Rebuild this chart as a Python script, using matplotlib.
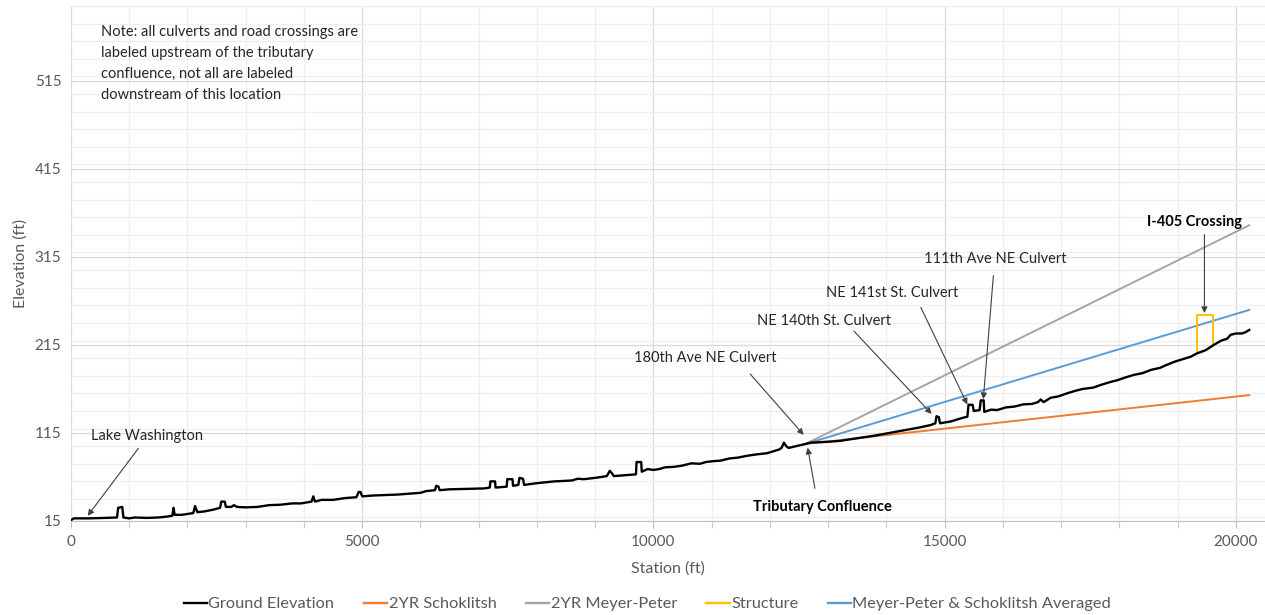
import matplotlib
matplotlib.use("Agg")
import matplotlib.pyplot as plt
from matplotlib.ticker import MultipleLocator
from matplotlib.lines import Line2D

# ---------------- data ----------------
ground_station = [0, 50, 300, 600, 790, 810, 880, 900, 1000, 1100, 1300, 1500, 1650, 1740, 1760, 1780,
                  1900, 2100, 2130, 2170, 2300, 2450, 2560, 2580, 2640, 2660, 2750, 2800, 2850, 3000,
                  3200, 3400, 3600, 3800, 3950, 4130, 4160, 4190, 4300, 4500, 4700, 4900, 4940, 4970,
                  5000, 5200, 5400, 5600, 5800, 6000, 6100, 6250, 6270, 6310, 6330, 6500, 6800, 7100,
                  7190, 7200, 7280, 7290, 7480, 7490, 7580, 7590, 7680, 7700, 7760, 7780, 8000, 8300,
                  8600, 8700, 8800, 9000, 9200, 9250, 9290, 9320, 9500, 9700, 9710, 9790, 9800, 9900,
                  10000, 10100, 10200, 10350, 10500, 10650, 10800, 10900, 11030, 11150, 11300, 11450,
                  11600, 11750, 11950, 12150, 12200, 12240, 12280, 12320, 12450, 12580, 12610, 12700,
                  13000, 13200, 13500, 13800, 14010, 14300, 14550, 14760, 14840, 14860, 14900, 14920,
                  15100, 15300, 15390, 15410, 15480, 15500, 15600, 15620, 15670, 15680, 15800, 15900,
                  16050, 16200, 16350, 16500, 16600, 16650, 16700, 16820, 16950, 17100, 17250, 17370,
                  17550, 17700, 17850, 17970, 18100, 18250, 18400, 18540, 18700, 18800, 18950, 19100,
                  19220, 19340, 19480, 19620, 19750, 19850, 19910, 20000, 20100, 20150, 20230]
ground_elev = [16, 18, 18, 18.5, 19, 30, 31, 19, 18, 19, 18.5, 19, 20, 21, 30, 22,
               22, 24, 32, 25, 26, 28, 30, 37, 37, 31, 31, 33, 31, 30.5,
               31, 33, 33.5, 35, 35, 37, 43, 37, 39, 39, 41, 42, 48, 48,
               43, 44, 44.5, 45, 46, 47, 49, 50, 55, 54, 50, 51, 51.5, 52,
               53, 60, 60, 53, 54, 62.5, 62.5, 55, 56, 64, 63, 56, 58, 60,
               61, 63, 62.5, 64, 66, 72, 69, 66, 67, 68, 82, 82, 71, 74,
               73, 74, 76, 76.5, 78, 80.5, 80, 82, 83, 83.5, 86, 87,
               89, 90.5, 92, 96, 98, 104, 100, 98, 100, 102, 102.5, 104,
               105, 106, 109, 112, 114.5, 118, 121, 124, 126, 134, 133, 126,
               128, 132, 133.5, 147, 147, 140, 141, 152, 152, 139, 141.5, 141,
               144, 145, 147.5, 148, 150, 153, 150, 155, 156.5, 160, 163, 165,
               166.5, 170, 173, 175, 178, 181, 183, 186.6, 189, 192, 196, 199,
               201.5, 205.6, 209, 215, 220, 222, 226.5, 228, 228, 229, 232]

trend_station = [12610, 20230]
schoklitsch = [102.5, 158]
meyer_peter = [102.5, 351]
averaged = [102.5, 254.8]

structure_station = [19330, 19330, 19600, 19600]
structure_elev = [205.6, 249, 249, 214]

y_ticks = [15, 115, 215, 315, 415, 515]
x_ticks = [0, 5000, 10000, 15000, 20000]

# ---------------- figure ----------------
plt.rcParams['font.family'] = ['Lato', 'DejaVu Sans']
fig = plt.figure(figsize=(12.65, 6.15), dpi=100)
ax = fig.add_axes([71/1265, 94/615, 1194/1265, 515/615])

ax.plot(ground_station, ground_elev, color='black', lw=1.7, zorder=5)
ax.plot(trend_station, schoklitsch, color='#ed7d31', lw=1.4, zorder=3)
ax.plot(trend_station, meyer_peter, color='#a5a5a5', lw=1.4, zorder=3)
ax.plot(structure_station, structure_elev, color='#ffc000', lw=1.4, zorder=4)
ax.plot(trend_station, averaged, color='#5b9bd5', lw=1.4, zorder=3)

ax.set_xlim(0, 20500)
ax.set_ylim(15, 600)
ax.set_xticks(x_ticks)
ax.set_yticks(y_ticks)
ax.xaxis.set_minor_locator(MultipleLocator(1000))
ax.yaxis.set_minor_locator(MultipleLocator(20))
ax.grid(which='major', color='#d9d9d9', lw=0.9)
ax.grid(which='minor', color='#efefef', lw=0.9)
ax.set_axisbelow(True)
for s in ['top', 'right', 'left']:
    ax.spines[s].set_visible(False)
ax.spines['bottom'].set_color('#bfbfbf')
ax.tick_params(axis='y', which='both', length=0, labelsize=11, labelcolor='#595959', pad=7)
ax.tick_params(axis='x', which='major', length=5, color='#bfbfbf', labelsize=11, labelcolor='#595959', pad=5)
ax.tick_params(axis='x', which='minor', length=5, color='#bfbfbf')
ax.set_xlabel('Station (ft)', fontsize=11.5, color='#595959', labelpad=9)
ax.set_ylabel('Elevation (ft)', fontsize=11.5, color='#595959')
ax.yaxis.set_label_coords(-0.036, 0.5)

# ---------------- annotations ----------------
arrow_kw = dict(arrowstyle='-|>', color='#404040', lw=0.8, mutation_scale=9)
fs = 10.5

ax.text(515, 578, 'Note: all culverts and road crossings are\nlabeled upstream of the tributary\n'
        'confluence, not all are labeled\ndownstream of this location',
        fontsize=fs, color='#262626', va='top', ha='left', linespacing=1.62)

ax.text(344, 111.6, 'Lake Washington', fontsize=fs, color='#262626', va='center', ha='left')
ax.annotate('', xy=(258, 18.4), xytext=(1185, 100), arrowprops=arrow_kw)

ax.text(10890, 200.2, '180th Ave NE Culvert', fontsize=fs, color='#262626', va='center', ha='center')
ax.annotate('', xy=(12610, 110.5), xytext=(11630, 184.3), arrowprops=arrow_kw)

ax.text(12900, 30.9, 'Tributary Confluence', fontsize=fs, fontweight='bold', color='#000000',
        va='center', ha='center')
ax.annotate('', xy=(12640, 101.4), xytext=(12780, 49), arrowprops=arrow_kw)

ax.text(12930, 242.3, 'NE 140th St. Culvert', fontsize=fs, color='#262626', va='center', ha='center')
ax.annotate('', xy=(14810, 134.3), xytext=(13410, 233), arrowprops=arrow_kw)

ax.text(14090, 273.7, 'NE 141st St. Culvert', fontsize=fs, color='#262626', va='center', ha='center')
ax.annotate('', xy=(15410, 144.5), xytext=(14570, 260.5), arrowprops=arrow_kw)

ax.text(15870, 312.7, '111th Ave NE Culvert', fontsize=fs, color='#262626', va='center', ha='center')
ax.annotate('', xy=(15660, 150.2), xytext=(15840, 296.8), arrowprops=arrow_kw)

ax.text(19290, 354.8, 'I-405 Crossing', fontsize=fs, fontweight='bold', color='#000000',
        va='center', ha='center')
ax.annotate('', xy=(19460, 248), xytext=(19460, 343.4), arrowprops=arrow_kw)

# ---------------- legend ----------------
handles = [Line2D([], [], color='black', lw=1.7),
           Line2D([], [], color='#ed7d31', lw=1.7),
           Line2D([], [], color='#a5a5a5', lw=1.7),
           Line2D([], [], color='#ffc000', lw=1.7),
           Line2D([], [], color='#5b9bd5', lw=1.7)]
labels = ['Ground Elevation', '2YR Schoklitsh', '2YR Meyer-Peter', 'Structure',
          'Meyer-Peter & Schoklitsh Averaged']
leg = fig.legend(handles, labels, loc='center', bbox_to_anchor=(1147.5/1265, 11/615), ncol=5, frameon=False,
                 fontsize=11.8, handlelength=1.42, handletextpad=0.08, columnspacing=1.8,
                 borderaxespad=0)
leg.set_bbox_to_anchor((647.5/1265, 11/615), transform=fig.transFigure)
for t in leg.get_texts():
    t.set_color('#595959')

fig.savefig('out.png', dpi=100)
